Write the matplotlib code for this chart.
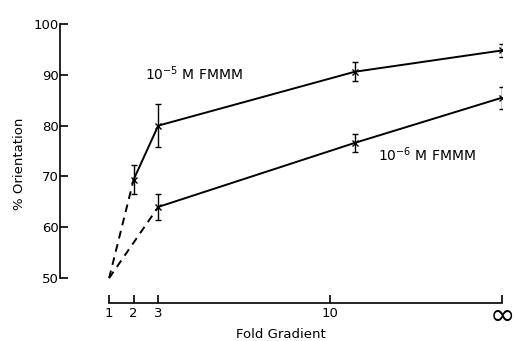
import matplotlib.pyplot as plt

# Datos (infinito se coloca en x=17)
x_alto = [1, 2, 3, 11, 17]
y_alto = [50, 69.4, 80, 90.6, 94.8]
err_alto = [0, 2.8, 4.3, 1.9, 1.3]

x_bajo = [1, 3, 11, 17]
y_bajo = [50, 64, 76.6, 85.5]
err_bajo = [0, 2.5, 1.8, 2.2]

xticks = [1, 2, 3, 10, 17]
xtick_labels = ['1', '2', '3', '10', '']
yticks = [50, 60, 70, 80, 90, 100]

fig = plt.figure(figsize=(5.16, 3.41), dpi=100)
ax = fig.add_axes([60 / 516, 38 / 341, 442 / 516, 279 / 341])

# Tramos discontinuos y continuos
ax.plot(x_alto[:2], y_alto[:2], color='black', lw=1.4, ls=(0, (4, 3)))
ax.plot(x_alto[1:], y_alto[1:], color='black', lw=1.4)
ax.plot(x_bajo[:2], y_bajo[:2], color='black', lw=1.4, ls=(0, (4, 3)))
ax.plot(x_bajo[1:], y_bajo[1:], color='black', lw=1.4)

ax.errorbar(x_alto[1:], y_alto[1:], yerr=err_alto[1:], fmt='x', color='black',
            ms=4, mew=1, elinewidth=1, capsize=2, capthick=1)
ax.errorbar(x_bajo[1:], y_bajo[1:], yerr=err_bajo[1:], fmt='x', color='black',
            ms=4, mew=1, elinewidth=1, capsize=2, capthick=1)

ax.set_xlim(-1, 17)
ax.set_ylim(45.1, 100)

for s in ['top', 'right']:
    ax.spines[s].set_visible(False)
ax.spines['left'].set_bounds(50, 100)
ax.spines['bottom'].set_bounds(1, 17)
ax.spines['left'].set_linewidth(1.2)
ax.spines['bottom'].set_linewidth(1.2)

ax.set_xticks(xticks)
ax.set_xticklabels(xtick_labels)
ax.set_yticks(yticks)
ax.tick_params(direction='in', length=6, width=1.2, labelsize=9.5, pad=3)
ax.tick_params(axis='y', pad=1)
ax.text(17, 45.4, '∞', fontsize=22, ha='center', va='top')

ax.set_ylabel('% Orientation', fontsize=9.5, labelpad=5)
ax.set_xlabel('Fold Gradient', fontsize=9.5, labelpad=6)

ax.text(2.45, 90.2, '10$^{-5}$ M FMMM', fontsize=10, ha='left', va='center')
ax.text(11.95, 74.2, '10$^{-6}$ M FMMM', fontsize=10, ha='left', va='center')

fig.savefig('out.png', dpi=100)
